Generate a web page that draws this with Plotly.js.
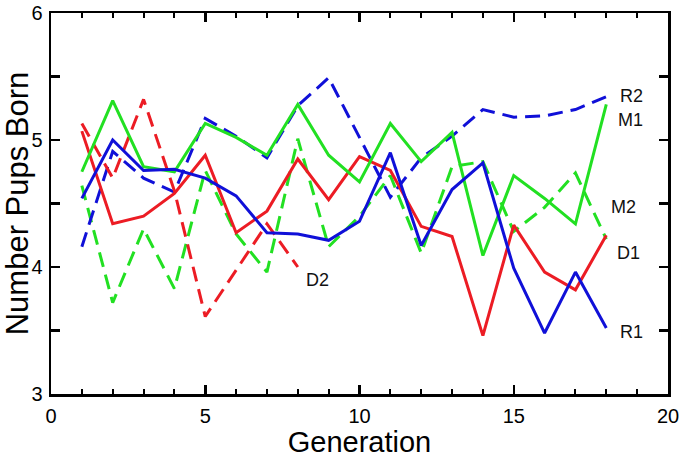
<!DOCTYPE html>
<html>
<head>
<meta charset="utf-8">
<script src="https://cdn.plot.ly/plotly-3.0.1.min.js"></script>
<style>
  html, body { margin: 0; padding: 0; background: #fff; }
  #chart { width: 679px; height: 461px; }
</style>
</head>
<body>
<div id="chart"></div>
<script>
// Generations sampled for every line
const generation = [1, 2, 3, 4, 5, 6, 7, 8, 9, 10, 11, 12, 13, 14, 15, 16, 17, 18];
const generationD2 = [1, 2, 3, 4, 5, 6, 7, 8];

// Mean number of pups born per generation, by line
const r1 = [4.54, 5.00, 4.76, 4.77, 4.70, 4.56, 4.27, 4.26, 4.21, 4.36, 4.90, 4.17, 4.61, 4.82, 3.99, 3.48, 3.96, 3.52];
const r2 = [4.16, 4.91, 4.70, 4.59, 5.17, 5.03, 4.86, 5.27, 5.49, 5.02, 4.55, 4.86, 5.03, 5.24, 5.18, 5.19, 5.24, 5.34];
const m1 = [4.75, 5.31, 4.79, 4.75, 5.13, 5.02, 4.88, 5.28, 4.88, 4.67, 5.13, 4.83, 5.06, 4.09, 4.72, 4.54, 4.34, 5.28];
const m2 = [4.64, 3.72, 4.30, 3.83, 4.76, 4.26, 3.96, 5.01, 4.16, 4.40, 4.72, 4.11, 4.79, 4.83, 4.28, 4.47, 4.74, 4.22];
const d1 = [5.07, 4.34, 4.40, 4.58, 4.88, 4.27, 4.44, 4.85, 4.53, 4.87, 4.76, 4.32, 4.24, 3.46, 4.33, 3.96, 3.82, 4.25];
const d2 = [5.13, 4.70, 5.32, 4.60, 3.61, 3.98, 4.34, 4.00];

// Line labels placed next to the curves
const labelText = ['R2', 'M1', 'M2', 'D1', 'R1', 'D2'];
const labelX = [18.82, 18.8, 18.55, 18.72, 18.82, 8.65];
const labelY = [5.35, 5.16, 4.47, 4.11, 3.49, 3.90];

const RED = '#ec1c24';
const BLUE = '#1010d8';
const GREEN = '#22e022';
const DASH = '15px,8px';
const LW = 3;

function line(x, y, color, dash, name) {
  return {
    x: x, y: y, name: name, type: 'scatter', mode: 'lines',
    line: { color: color, width: LW, dash: dash },
    hoverinfo: 'x+y+name'
  };
}

const traces = [
  line(generation, m2, GREEN, DASH, 'M2'),
  line(generation, r2, BLUE, DASH, 'R2'),
  line(generationD2, d2, RED, DASH, 'D2'),
  line(generation, d1, RED, 'solid', 'D1'),
  line(generation, m1, GREEN, 'solid', 'M1'),
  line(generation, r1, BLUE, 'solid', 'R1')
];

const FONT = 'Liberation Sans, Arial, sans-serif';

const annotations = labelText.map((t, i) => ({
  x: labelX[i], y: labelY[i], xref: 'x', yref: 'y',
  text: t, showarrow: false, xanchor: 'center', yanchor: 'middle',
  font: { family: FONT, size: 18, color: '#111' }
}));

const axisCommon = {
  showgrid: false, zeroline: false,
  showline: true, linecolor: '#000', linewidth: 2.5, mirror: 'ticks',
  ticks: 'inside', ticklen: 9, tickwidth: 2.5, tickcolor: '#000',
  ticklabeloverflow: 'allow',
  tickfont: { family: FONT, size: 20, color: '#000' }
};

const layout = {
  width: 679, height: 461,
  margin: { l: 51, r: 11, t: 13, b: 67 },
  paper_bgcolor: '#fff', plot_bgcolor: '#fff',
  showlegend: false,
  xaxis: Object.assign({}, axisCommon, {
    range: [0, 20], tickmode: 'linear', tick0: 0, dtick: 5,
    ticklabelstandoff: 2,
    minor: { ticks: 'inside', dtick: 1, ticklen: 5, tickwidth: 2, tickcolor: '#000', showgrid: false },
    title: { text: 'Generation', font: { family: FONT, size: 29, color: '#000' }, standoff: 4 }
  }),
  yaxis: Object.assign({}, axisCommon, {
    range: [3, 6], tickmode: 'linear', tick0: 3, dtick: 1,
    ticklabelstandoff: 2,
    minor: { ticks: 'inside', dtick: 0.5, ticklen: 9, tickwidth: 2.5, tickcolor: '#000', showgrid: false },
    title: { text: 'Number Pups Born', font: { family: FONT, size: 31, color: '#000' }, standoff: 4 }
  }),
  annotations: annotations
};

Plotly.newPlot('chart', traces, layout, { displayModeBar: false, staticPlot: true });
</script>
</body>
</html>
